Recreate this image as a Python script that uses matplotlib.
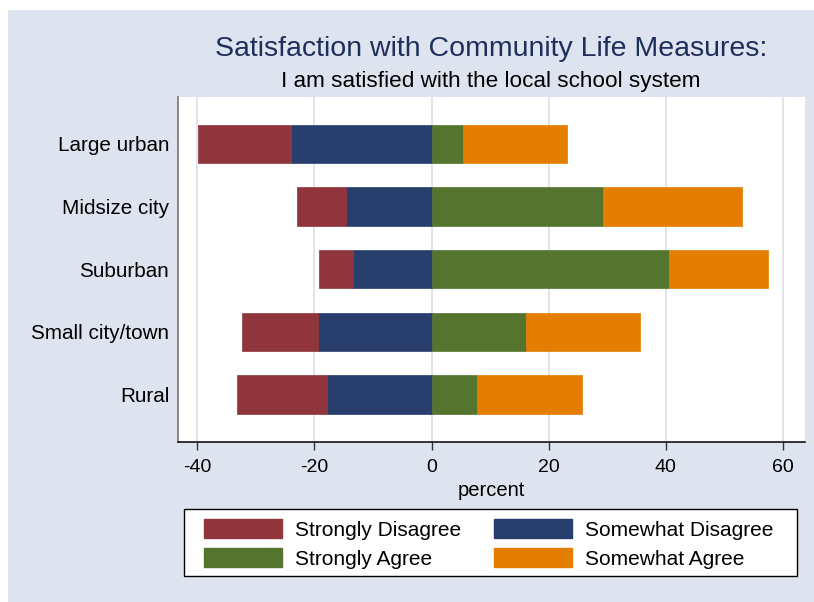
import numpy as np
import matplotlib
matplotlib.use('Agg')
import matplotlib.pyplot as plt
from matplotlib.patches import Rectangle, Patch

# values (percent)
categories = ['Large urban', 'Midsize city', 'Suburban', 'Small city/town', 'Rural']
strongly_disagree = [15.9, 8.4, 5.7, 12.9, 15.5]
somewhat_disagree = [24.0, 14.6, 13.5, 19.4, 17.8]
strongly_agree = [5.4, 29.3, 40.5, 16.2, 7.7]
somewhat_agree = [17.7, 23.7, 16.9, 19.4, 18.0]
xticks = [-40, -20, 0, 20, 40, 60]

# stata s2color look
RED = '#90353B'
NAVY = '#283F6D'
GREEN = '#55752F'
ORANGE = '#E37E00'
BG = '#DEE4EF'
GRID = '#DCE3EC'
TITLE = '#1F2F5C'

plt.rcParams['font.family'] = ['Liberation Sans', 'DejaVu Sans']

W, H = 814, 602
fig = plt.figure(figsize=(W / 100, H / 100), dpi=100)
fig.patch.set_facecolor('white')
fig.patches.append(Rectangle((8 / W, 0), 1 - 8 / W, 1 - 10 / H,
                             transform=fig.transFigure, facecolor=BG,
                             edgecolor='none', zorder=-10))


def px(x0, y0, x1, y1):
    # pixel box (top-left origin) -> figure rect
    return [x0 / W, 1 - y1 / H, (x1 - x0) / W, (y1 - y0) / H]


ax = fig.add_axes(px(177.5, 96.7, 804.5, 441.7))
ax.set_facecolor('white')

sd = np.array(strongly_disagree)
swd = np.array(somewhat_disagree)
sa = np.array(strongly_agree)
swa = np.array(somewhat_agree)
y = np.arange(len(categories))
h = 0.61

ax.barh(y, -swd, height=h, color=NAVY, edgecolor=NAVY, lw=0.5, zorder=3)
ax.barh(y, -sd, left=-swd, height=h, color=RED, edgecolor=RED, lw=0.5, zorder=3)
ax.barh(y, sa, height=h, color=GREEN, edgecolor=GREEN, lw=0.5, zorder=3)
ax.barh(y, swa, left=sa, height=h, color=ORANGE, edgecolor=ORANGE, lw=0.5, zorder=3)

ax.set_xlim(-43.4, 63.7)
ax.set_ylim(len(categories) - 1 + 0.755, -0.755)
ax.set_xticks(xticks)
ax.set_xticklabels([str(t) for t in xticks])
ax.set_yticks(y)
ax.set_yticklabels(categories)
ax.grid(axis='x', color=GRID, lw=1.3, zorder=0)
ax.tick_params(axis='x', length=5.8, width=1, color='#333333', pad=7, labelsize=14)
ax.tick_params(axis='y', length=0, pad=6, labelsize=14.9)
ax.set_xlabel('percent', fontsize=14.5, labelpad=3)

for s in ['top', 'right']:
    ax.spines[s].set_visible(False)
ax.spines['left'].set_color('#808080')
ax.spines['left'].set_linewidth(1.3)
ax.spines['bottom'].set_color('black')
ax.spines['bottom'].set_linewidth(1.1)

# titles centred over the plot region
xc = (177.5 + 804.5) / 2 / W
fig.text(xc, 1 - 49 / H, 'Satisfaction with Community Life Measures:',
         ha='center', va='center', fontsize=20.5, color=TITLE)
fig.text(xc, 1 - 81 / H, 'I am satisfied with the local school system',
         ha='center', va='center', fontsize=16.2, color='black')

# legend: frame drawn by hand, entries packed inside
fig.patches.append(Rectangle((183.5 / W, 1 - 576 / H), (797 - 183.5) / W, 67 / H,
                             transform=fig.transFigure, facecolor='white',
                             edgecolor='black', lw=1.0, zorder=1))
handles = [Patch(color=RED), Patch(color=GREEN), Patch(color=NAVY), Patch(color=ORANGE)]
labels = ['Strongly Disagree', 'Strongly Agree', 'Somewhat Disagree', 'Somewhat Agree']
fig.legend(handles, labels, ncol=2, loc='upper left',
           bbox_to_anchor=(204 / W, 1 - 519 / H),
           borderaxespad=0, borderpad=0, frameon=False, fontsize=15,
           handlelength=3.75, handleheight=1.05, handletextpad=0.6,
           labelspacing=0.4, columnspacing=1.6)

fig.savefig('out.png', dpi=100)
